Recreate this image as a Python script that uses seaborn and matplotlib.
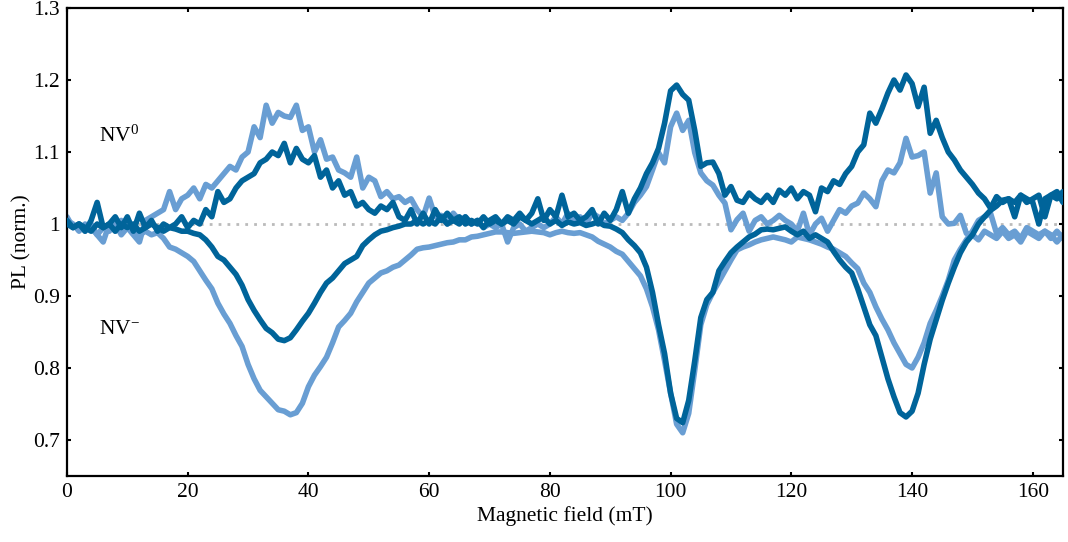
import numpy as np
import pandas as pd
import matplotlib
matplotlib.use("Agg")
import matplotlib.pyplot as plt
import seaborn as sns
from matplotlib.ticker import FuncFormatter

# Magnetic field (mT), 1 mT step
field = list(range(0, 166))

nv0_dark = [
    1.005, 0.995, 1.0, 0.99, 1.005, 1.03, 0.995, 1.0, 1.01, 0.995,
    1.01, 0.99, 1.015, 0.995, 1.005, 0.99, 1.0, 0.995, 1.0, 1.01,
    0.995, 1.005, 1.0, 1.02, 1.01, 1.045, 1.03, 1.035, 1.05, 1.06,
    1.065, 1.07, 1.085, 1.09, 1.10, 1.095, 1.112, 1.085, 1.105, 1.09,
    1.085, 1.095, 1.065, 1.075, 1.05, 1.06, 1.04, 1.045, 1.025, 1.03,
    1.02, 1.015, 1.025, 1.02, 1.03, 1.01, 1.005, 1.02, 1.0, 1.015,
    1.0, 1.02, 1.005, 1.015, 1.005, 1.0, 1.01, 1.0, 1.005, 0.995,
    1.005, 1.01, 1.0, 1.01, 1.005, 1.015, 1.005, 1.015, 1.035, 1.005,
    1.02, 1.01, 1.04, 1.01, 1.015, 1.005, 1.01, 1.02, 1.0, 1.015,
    1.005, 1.02, 1.045, 1.015, 1.035, 1.05, 1.07, 1.085, 1.105, 1.14,
    1.185, 1.193, 1.18, 1.172, 1.13, 1.08, 1.085, 1.086, 1.07, 1.04,
    1.052, 1.033, 1.03, 1.043, 1.035, 1.03, 1.04, 1.03, 1.047, 1.04,
    1.05, 1.035, 1.045, 1.04, 1.017, 1.05, 1.045, 1.06, 1.055, 1.07,
    1.08, 1.1, 1.11, 1.154, 1.14, 1.16, 1.182, 1.2, 1.186, 1.207,
    1.195, 1.163, 1.19, 1.126, 1.144, 1.12, 1.1, 1.089, 1.075, 1.065,
    1.055, 1.043, 1.035, 1.022, 1.038, 1.03, 1.035, 1.01, 1.04, 1.03,
    1.035, 1.04, 1.01, 1.04, 1.035, 1.045,
]

nv0_light = [
    1.01, 0.995, 1.0, 0.99, 1.0, 0.985, 0.975, 1.0, 0.99, 1.005,
    0.995, 0.985, 0.975, 1.005, 1.01, 1.015, 1.02, 1.045, 1.02, 1.035,
    1.04, 1.05, 1.035, 1.055, 1.05, 1.06, 1.07, 1.08, 1.075, 1.093,
    1.1, 1.135, 1.12, 1.165, 1.14, 1.155, 1.15, 1.148, 1.165, 1.13,
    1.135, 1.1, 1.117, 1.09, 1.093, 1.075, 1.071, 1.065, 1.093, 1.05,
    1.065, 1.06, 1.038, 1.045, 1.035, 1.038, 1.03, 1.035, 1.02, 1.01,
    1.036, 1.01, 1.012, 1.0, 1.015, 1.005, 1.01, 1.0, 1.005, 0.995,
    1.0, 0.995, 1.0, 0.975, 0.995, 1.0, 0.99, 0.995, 1.0, 0.995,
    1.0, 1.01, 1.0, 1.015, 1.005, 1.01, 1.0, 1.015, 1.01, 1.0,
    1.005, 1.01, 1.005, 1.015, 1.03, 1.04, 1.052, 1.075, 1.099, 1.085,
    1.135, 1.154, 1.13, 1.144, 1.099, 1.071, 1.06, 1.054, 1.04, 1.029,
    0.992, 1.006, 1.015, 0.99, 1.005, 1.01, 1.0, 1.005, 1.012, 1.005,
    1.0, 0.99, 1.015, 0.985, 1.0, 1.008, 0.99, 1.005, 1.02, 1.015,
    1.025, 1.029, 1.043, 1.035, 1.024, 1.06, 1.075, 1.071, 1.085, 1.119,
    1.093, 1.095, 1.1, 1.043, 1.071, 1.01, 1.0, 1.001, 1.012, 0.987,
    0.985, 0.978, 0.99, 0.985, 0.98, 0.99, 0.98, 0.985, 0.975, 0.99,
    0.985, 0.98, 0.99, 0.985, 0.975, 0.985,
]

nvm_dark = [
    1.0, 0.995, 1.0, 0.995, 0.99, 1.0, 0.995, 1.0, 0.99, 1.0,
    0.995, 1.0, 0.99, 0.995, 1.0, 0.995, 0.99, 0.995, 0.993, 0.99,
    0.99, 0.987, 0.985, 0.978, 0.968, 0.955, 0.95, 0.94, 0.93, 0.915,
    0.895, 0.88, 0.867, 0.855, 0.849, 0.84, 0.838, 0.842, 0.853, 0.865,
    0.876, 0.89, 0.905, 0.918, 0.925, 0.935, 0.945, 0.95, 0.955, 0.97,
    0.978, 0.985, 0.99, 0.992, 0.995, 0.997, 1.0, 1.0, 1.005, 1.0,
    1.005, 1.0, 1.01, 1.0, 1.005, 1.01, 1.0, 1.005, 1.0, 1.01,
    1.0, 1.005, 1.0, 1.005, 1.0, 1.01, 1.005, 1.0, 1.005, 1.01,
    1.0, 1.005, 0.998, 1.003, 1.0, 1.002, 0.998, 1.0, 1.003, 0.998,
    0.997, 0.993, 0.988, 0.978, 0.97, 0.96, 0.94, 0.905, 0.86, 0.82,
    0.765, 0.73, 0.724, 0.755, 0.81, 0.87, 0.895, 0.905, 0.935, 0.948,
    0.96, 0.968, 0.975, 0.982, 0.986, 0.992, 0.993, 0.992, 0.994, 0.996,
    0.99, 0.985, 0.99, 0.98, 0.985, 0.98, 0.975, 0.962, 0.95, 0.94,
    0.932, 0.91, 0.885, 0.86, 0.845, 0.815, 0.785, 0.76, 0.738, 0.732,
    0.74, 0.765, 0.805, 0.84, 0.867, 0.894, 0.918, 0.94, 0.96, 0.975,
    0.985, 1.0, 1.01, 1.019, 1.025, 1.033, 1.035, 1.03, 1.04, 1.035,
    1.03, 1.0, 1.035, 1.04, 1.045, 1.03,
]

nvm_light = [
    1.005, 1.0, 0.99, 1.0, 0.995, 0.985, 0.995, 0.99, 1.0, 0.985,
    0.995, 0.99, 0.985, 0.99, 0.985, 0.988, 0.98, 0.968, 0.965, 0.96,
    0.955, 0.948, 0.935, 0.922, 0.91, 0.89, 0.875, 0.862, 0.845, 0.83,
    0.805, 0.785, 0.769, 0.76, 0.751, 0.742, 0.74, 0.735, 0.738, 0.751,
    0.774, 0.79, 0.802, 0.815, 0.835, 0.857, 0.866, 0.876, 0.892, 0.905,
    0.918, 0.925, 0.932, 0.935, 0.94, 0.943, 0.95, 0.957, 0.965, 0.967,
    0.968, 0.97, 0.972, 0.974, 0.975, 0.978, 0.978, 0.982, 0.983, 0.985,
    0.987, 0.989, 0.989, 0.988, 0.987, 0.988, 0.989, 0.99, 0.989, 0.988,
    0.985, 0.988, 0.99, 0.988, 0.987, 0.988, 0.985, 0.982, 0.976, 0.972,
    0.968, 0.962, 0.958, 0.948, 0.938, 0.928, 0.91, 0.885, 0.853, 0.81,
    0.765, 0.722, 0.71, 0.737, 0.797, 0.86, 0.888, 0.905, 0.92, 0.935,
    0.95, 0.964, 0.968, 0.971, 0.975, 0.978, 0.98, 0.982, 0.98, 0.978,
    0.975, 0.982, 0.98, 0.978, 0.975, 0.972, 0.968, 0.965, 0.96, 0.955,
    0.946, 0.938, 0.918, 0.905, 0.885, 0.868, 0.853, 0.835, 0.82, 0.805,
    0.8, 0.815, 0.835, 0.862, 0.88, 0.9, 0.922, 0.95, 0.965, 0.978,
    0.99, 1.005, 1.01, 1.015, 0.987, 0.995, 0.985, 0.99, 0.98, 0.995,
    0.99, 0.985, 0.99, 0.98, 0.99, 0.98,
]

x_ticks = [0, 20, 40, 60, 80, 100, 120, 140, 160]
y_ticks = [0.7, 0.8, 0.9, 1.0, 1.1, 1.2, 1.3]

DARK = "#00649A"
LIGHT = "#699ED3"

sns.set_style("ticks")
plt.rcParams["font.family"] = ["Liberation Serif", "DejaVu Serif"]
plt.rcParams["mathtext.fontset"] = "custom"
plt.rcParams["mathtext.rm"] = "Liberation Serif"
plt.rcParams["mathtext.it"] = "Liberation Serif:italic"
plt.rcParams["text.color"] = "black"
plt.rcParams["axes.labelcolor"] = "black"

df = pd.DataFrame({
    "field": field,
    "nv0_dark": nv0_dark,
    "nv0_light": nv0_light,
    "nvm_dark": nvm_dark,
    "nvm_light": nvm_light,
})

fig = plt.figure(figsize=(10.68, 5.42), dpi=100)
ax = fig.add_axes([0.0627, 0.1218, 0.9326, 0.8634])

ax.plot([0, 165], [1, 1], color="#BBBBBB", lw=2, ls=(0, (1, 2.2)), zorder=1)

lw = 4.0
sns.lineplot(data=df, x="field", y="nvm_light", color=LIGHT, lw=lw, ax=ax, zorder=2)
sns.lineplot(data=df, x="field", y="nv0_light", color=LIGHT, lw=lw, ax=ax, zorder=2)
sns.lineplot(data=df, x="field", y="nvm_dark", color=DARK, lw=lw, ax=ax, zorder=3)
sns.lineplot(data=df, x="field", y="nv0_dark", color=DARK, lw=lw, ax=ax, zorder=3)

ax.set_xlim(0, 165)
ax.set_ylim(0.65, 1.3)
ax.set_xticks(x_ticks)
ax.set_yticks(y_ticks)
ax.yaxis.set_major_formatter(FuncFormatter(lambda v, p: f"{v:g}"))
ax.tick_params(direction="in", length=3, width=1.5, top=True, right=True,
               labelsize=15.5, colors="black", pad=5)
for s in ax.spines.values():
    s.set_linewidth(1.6)
    s.set_color("black")

ax.set_xlabel("Magnetic field (mT)", fontsize=15.5, labelpad=3, color="black")
ax.set_ylabel("PL (norm.)", fontsize=15.5, labelpad=1, color="black")

ax.text(5.3, 1.122, r"NV$^0$", fontsize=15.5, va="center", ha="left", color="black")
ax.text(5.3, 0.853, r"NV$^{-}$", fontsize=15.5, va="center", ha="left", color="black")

fig.savefig("out.png", dpi=100)
